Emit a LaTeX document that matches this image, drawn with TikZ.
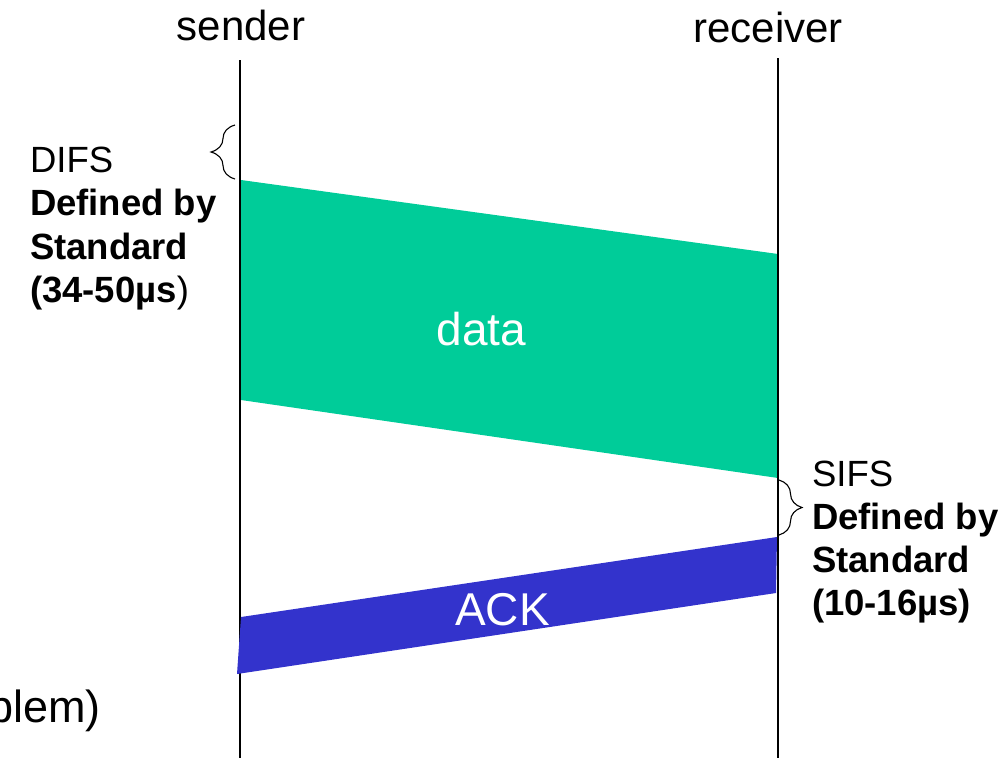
\documentclass[tikz,border=0pt]{standalone}
\usepackage{fontspec}
\setmainfont{Liberation Sans}
\usetikzlibrary{decorations.pathreplacing}
\definecolor{datagreen}{HTML}{00CC99}
\definecolor{ackblue}{HTML}{3333CC}
\begin{document}
\begin{tikzpicture}[x=1pt,y=-1pt,
  lbl/.style={inner sep=0pt,outer sep=0pt},
  big/.style={lbl,font=\fontsize{42}{50}\selectfont},
  pkt/.style={lbl,text=white,font=\fontsize{46}{54}\selectfont},
  note/.style={lbl,anchor=base west,font=\fontsize{36.5}{44}\selectfont},
  timeline/.style={line width=1.6pt,black},
  bracestyle/.style={decorate,decoration={brace,amplitude=24pt},line width=1.1pt}]
\useasboundingbox (0,0) rectangle (1000,758);
% data frame
\fill[datagreen] (241,180) coordinate (d1) -- (778,254) coordinate (d2) -- (778,478) coordinate (d3) -- (241,400) coordinate (d4) -- cycle;
% time lines
\coordinate (s0) at (240,60);
\coordinate (s1) at (240,758);
\coordinate (r0) at (778,58);
\coordinate (r1) at (778,758);
\draw[timeline] (s0) -- (s1);
\draw[timeline] (r0) -- (r1);
% ACK frame
\fill[ackblue] (241,617) coordinate (a1) -- (777,537) coordinate (a2) -- (776,593) coordinate (a3) -- (237,674) coordinate (a4) -- cycle;
% labels
\node[big,anchor=base] (sender) at (241,40) {sender};
\node[big,anchor=base] (receiver) at (768,42) {receiver};
\node[pkt,anchor=base] (datalbl) at (481.5,345) {data};
\node[pkt,anchor=base] (acklbl) at (502.5,625) {ACK};
% DIFS
\coordinate (db0) at (235,179);
\coordinate (db1) at (235,125);
\draw[bracestyle] (db0) -- (db1);
\node[note] (difs1) at (30,172) {DIFS};
\node[note] (difs2) at (30,215.5) {\textbf{Defined by}};
\node[note] (difs3) at (30,259) {\textbf{Standard}};
\node[note] (difs4) at (30,302.5) {\textbf{(34-50µs})};
% SIFS
\coordinate (sb0) at (779,480);
\coordinate (sb1) at (779,535);
\draw[bracestyle,decoration={amplitude=23pt}] (sb0) -- (sb1);
\node[note] (sifs1) at (812,486) {SIFS};
\node[note] (sifs2) at (812,529) {\textbf{Defined by}};
\node[note] (sifs3) at (812,572) {\textbf{Standard}};
\node[note] (sifs4) at (812,615) {\textbf{(10-16µs)}};
% cut-off text
\node[lbl,anchor=base east,font=\fontsize{45}{54}\selectfont] (prob) at (101,722) {blem)};
\end{tikzpicture}
\end{document}
